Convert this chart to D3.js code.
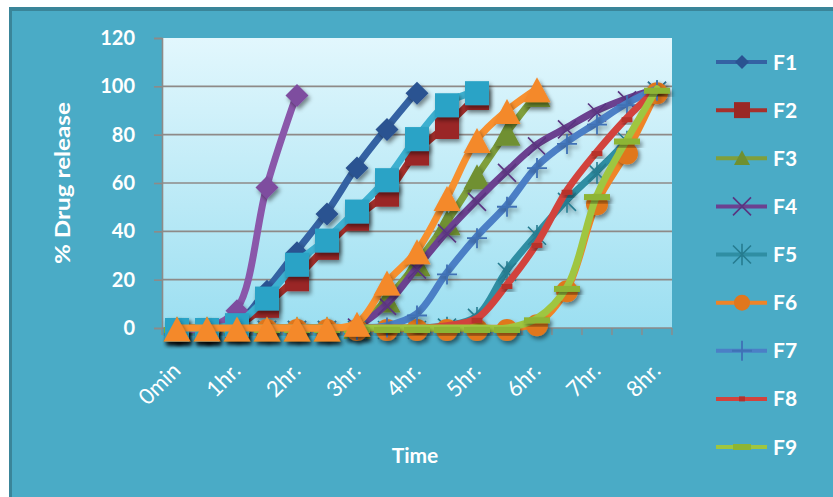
<!DOCTYPE html>
<html>
<head>
<meta charset="utf-8">
<script src="https://cdn.jsdelivr.net/npm/d3@7"></script>
<style>
  html, body { margin: 0; padding: 0; background: #fff; }
  svg { display: block; }
  text { font-family: Lato, "Open Sans", sans-serif; fill: #fff; }
</style>
</head>
<body>
<svg id="chart" width="833" height="497"></svg>
<script>
// time points in hours (every half hour), labels only on the whole hours
const times = [0, 0.5, 1, 1.5, 2, 2.5, 3, 3.5, 4, 4.5, 5, 5.5, 6, 6.5, 7, 7.5, 8];
const tickLabels = ["0min", "1hr.", "2hr.", "3hr.", "4hr.", "5hr.", "6hr.", "7hr.", "8hr."];
const yTicks = [0, 20, 40, 60, 80, 100, 120];

const seriesNames = ["F1", "F2", "F3", "F4", "F5", "F6", "F7", "F8", "F9", "F10", "F11", "F12"];
const legendNames = ["F1", "F2", "F3", "F4", "F5", "F6", "F7", "F8", "F9"];

const F1  = [0, 0, 2, 16, 32, 48, 67, 83, 98];
const F2  = [0, 0, 1, 10, 21, 34, 46, 56, 73, 84, 96];
const F3  = [0, 0, 0, 0, 0, 0, 1, 12, 27, 44, 63, 81, 97];
const F4  = [0, 0, 0, 0, 0, 0, 1, 10, 25, 40, 53, 65, 76, 83, 90, 95, 99];
const F5  = [0, 0, 0, 0, 0, 0, 0, 0, 0, 1, 5, 24, 39, 53, 65, 78, 99];
const F6  = [0, 0, 0, 0, 0, 0, 0, 0, 0, 0, 0, 0, 2, 16, 52, 73, 98];
const F7  = [0, 0, 0, 0, 0, 0, 0, 1, 6, 23, 38, 51, 67, 77, 85, 93, 99];
const F8  = [0, 0, 0, 0, 0, 0, 0, 0, 0, 1, 4, 18, 35, 57, 73, 87, 99];
const F9  = [0, 0, 0, 0, 0, 0, 0, 0, 0, 0, 0, 0, 4, 17, 55, 78, 99];
const F10 = [0, 0, 8, 59, 97];
const F11 = [0, 0, 2, 13, 27, 37, 49, 62, 79, 93, 98];
const F12 = [0, 0, 0, 0, 0, 0, 2, 19, 32, 54, 78, 90, 99];

const seriesValues = [F1, F2, F3, F4, F5, F6, F7, F8, F9, F10, F11, F12];

// look of each series (excel style)
const lineColors   = ["#3462a3", "#a7302c", "#7f9f3c", "#6b4190", "#2f8ea3", "#ef8427", "#4b7fc6", "#d2433d", "#9fc640", "#8a57aa", "#3db0d0", "#f7902f"];
const markerColors = ["#2a5391", "#9a2825", "#6f9030", "#5a3480", "#267c90", "#e0771d", "#3f71b5", "#b8302c", "#8db534", "#7e4d9f", "#2aa3c6", "#f4892a"];
const markerTypes  = ["diamond", "square", "triangle", "x", "star", "circle", "plus", "dash", "longdash", "diamond", "square", "triangle"];

const svg = d3.select("#chart");
const W = 833, H = 497;

const defs = svg.append("defs");
const bg = defs.append("linearGradient").attr("id", "plotbg")
  .attr("x1", 0).attr("y1", 0).attr("x2", 0).attr("y2", 1);
bg.append("stop").attr("offset", "0%").attr("stop-color", "#e2f7fd");
bg.append("stop").attr("offset", "100%").attr("stop-color", "#9cdff1");

const shadow = defs.append("filter").attr("id", "shadow")
  .attr("x", "-50%").attr("y", "-50%").attr("width", "200%").attr("height", "200%");
shadow.append("feDropShadow").attr("dx", 2).attr("dy", 3)
  .attr("stdDeviation", 2).attr("flood-color", "#000").attr("flood-opacity", 0.45);

// frame
svg.append("rect").attr("x", 9).attr("y", 7).attr("width", W - 9).attr("height", H - 7)
  .attr("fill", "#3a8599");
svg.append("rect").attr("x", 12).attr("y", 11).attr("width", W - 12).attr("height", H - 11)
  .attr("fill", "#4aabc6");

const plot = { left: 162, right: 672, top: 38, bottom: 328 };

const x = d3.scaleBand().domain(times).range([plot.left, plot.right]);
const y = d3.scaleLinear().domain([0, 120]).range([plot.bottom, plot.top]);
const cx = t => x(t) + x.bandwidth() / 2;

svg.append("rect")
  .attr("x", plot.left).attr("y", plot.top)
  .attr("width", plot.right - plot.left).attr("height", plot.bottom - plot.top)
  .attr("fill", "url(#plotbg)");

// gridlines
svg.append("g").selectAll("line").data(yTicks.filter(d => d > 0 && d < 120)).join("line")
  .attr("x1", plot.left).attr("x2", plot.right)
  .attr("y1", d => y(d)).attr("y2", d => y(d))
  .attr("stroke", "#8e8a88").attr("stroke-width", 1.6);

// y axis
const yAxis = svg.append("g").attr("transform", `translate(${plot.left},0)`)
  .call(d3.axisLeft(y).tickValues(yTicks).tickSize(8).tickPadding(19));
yAxis.select(".domain").attr("stroke", "#8e8a88").attr("stroke-width", 1.6);
yAxis.selectAll(".tick line").attr("stroke", "#8e8a88").attr("stroke-width", 1.6);
yAxis.selectAll(".tick text").attr("fill", "#fff")
  .style("font-size", "20px").style("font-weight", "bold")
  .style("font-family", "Lato, sans-serif");

// x axis ticks between categories
const xAxis = svg.append("g").attr("transform", `translate(0,${plot.bottom})`);
xAxis.append("line").attr("x1", plot.left).attr("x2", plot.right)
  .attr("stroke", "#8e8a88").attr("stroke-width", 1.6);
xAxis.selectAll("line.tk").data(times.concat([null])).join("line").attr("class", "tk")
  .attr("x1", (d, i) => plot.left + i * x.bandwidth())
  .attr("x2", (d, i) => plot.left + i * x.bandwidth())
  .attr("y1", 0).attr("y2", 7)
  .attr("stroke", "#8e8a88").attr("stroke-width", 1.4);

const hourTimes = times.filter(t => Number.isInteger(t));
svg.append("g").selectAll("text").data(hourTimes).join("text")
  .attr("transform", (d, i) => `translate(${cx(d) + 5},${plot.bottom + 44}) rotate(-45)`)
  .attr("text-anchor", "end")
  .style("font-size", "22px")
  .text((d, i) => tickLabels[i]);

// axis titles
svg.append("text")
  .attr("transform", `translate(70,183) rotate(-90)`)
  .attr("text-anchor", "middle")
  .attr("textLength", 162).attr("lengthAdjust", "spacingAndGlyphs")
  .style("font-size", "21px").style("font-weight", "bold")
  .text("% Drug release");

svg.append("text")
  .attr("x", 415).attr("y", 463)
  .attr("text-anchor", "middle")
  .style("font-size", "21px").style("font-weight", "bold")
  .text("Time");

// markers
function drawMarker(g, type, color, s) {
  const h = s / 2;
  if (type === "diamond") {
    g.append("path").attr("d", `M0,${-h}L${h},0L0,${h}L${-h},0Z`).attr("fill", color);
  } else if (type === "square") {
    g.append("rect").attr("x", -h).attr("y", -h).attr("width", s).attr("height", s).attr("fill", color);
  } else if (type === "triangle") {
    g.append("path").attr("d", `M0,${-h}L${h},${h * 0.85}L${-h},${h * 0.85}Z`).attr("fill", color);
  } else if (type === "circle") {
    g.append("circle").attr("r", h).attr("fill", color);
  } else if (type === "x") {
    g.append("path").attr("d", `M${-h},${-h}L${h},${h}M${-h},${h}L${h},${-h}`)
      .attr("stroke", color).attr("stroke-width", 1.6);
  } else if (type === "star") {
    g.append("path").attr("d", `M${-h},${-h}L${h},${h}M${-h},${h}L${h},${-h}M0,${-h * 1.2}L0,${h * 1.2}`)
      .attr("stroke", color).attr("stroke-width", 1.6);
  } else if (type === "plus") {
    g.append("path").attr("d", `M${-h},0L${h},0M0,${-h}L0,${h}`)
      .attr("stroke", color).attr("stroke-width", 1.8);
  } else if (type === "dash") {
    g.append("rect").attr("x", -h * 0.6).attr("y", -2.5).attr("width", s * 0.6).attr("height", 5).attr("fill", color);
  } else if (type === "longdash") {
    g.append("rect").attr("x", -h).attr("y", -3).attr("width", s).attr("height", 6).attr("fill", color);
  }
}

const markerSize = { diamond: 23, square: 24, triangle: 27, circle: 22, x: 18, star: 18, plus: 20, dash: 18, longdash: 26 };

const line = d3.line()
  .defined(d => d.v != null)
  .x(d => cx(d.t))
  .y(d => y(d.v))
  .curve(d3.curveCatmullRom.alpha(0.5));

seriesNames.forEach((name, si) => {
  const pts = seriesValues[si].map((v, i) => ({ t: times[i], v: v }));
  const g = svg.append("g").attr("class", "series-" + name);
  g.append("path").datum(pts)
    .attr("d", line)
    .attr("fill", "none")
    .attr("stroke", lineColors[si])
    .attr("stroke-width", 7)
    .attr("stroke-linejoin", "round")
    .attr("stroke-linecap", "round");
  const type = markerTypes[si];
  g.selectAll("g.m").data(pts.filter(d => d.v != null)).join("g").attr("class", "m")
    .attr("transform", d => `translate(${cx(d.t)},${y(d.v) + 2})`)
    .attr("filter", "url(#shadow)")
    .each(function () { drawMarker(d3.select(this), type, markerColors[si], markerSize[type]); });
});

// legend (only F1..F9 fit)
const legend = svg.append("g");
const legendY = d3.scalePoint().domain(legendNames).range([62, 447]);
const small = { diamond: 14, square: 16, triangle: 16, circle: 16, x: 18, star: 18, plus: 20, dash: 10, longdash: 18 };
legendNames.forEach((name, i) => {
  const gy = legendY(name);
  const lg = legend.append("g").attr("transform", `translate(0,${gy})`);
  lg.append("line").attr("x1", 716).attr("x2", 767)
    .attr("stroke", lineColors[i]).attr("stroke-width", 4);
  const mg = lg.append("g").attr("transform", "translate(742,0)");
  const type = markerTypes[i];
  drawMarker(mg, type, markerColors[i], small[type]);
  lg.append("text").attr("x", 773).attr("y", 0).attr("dy", "0.36em")
    .style("font-size", "21px").style("font-weight", "bold")
    .text(name);
});
</script>
</body>
</html>
